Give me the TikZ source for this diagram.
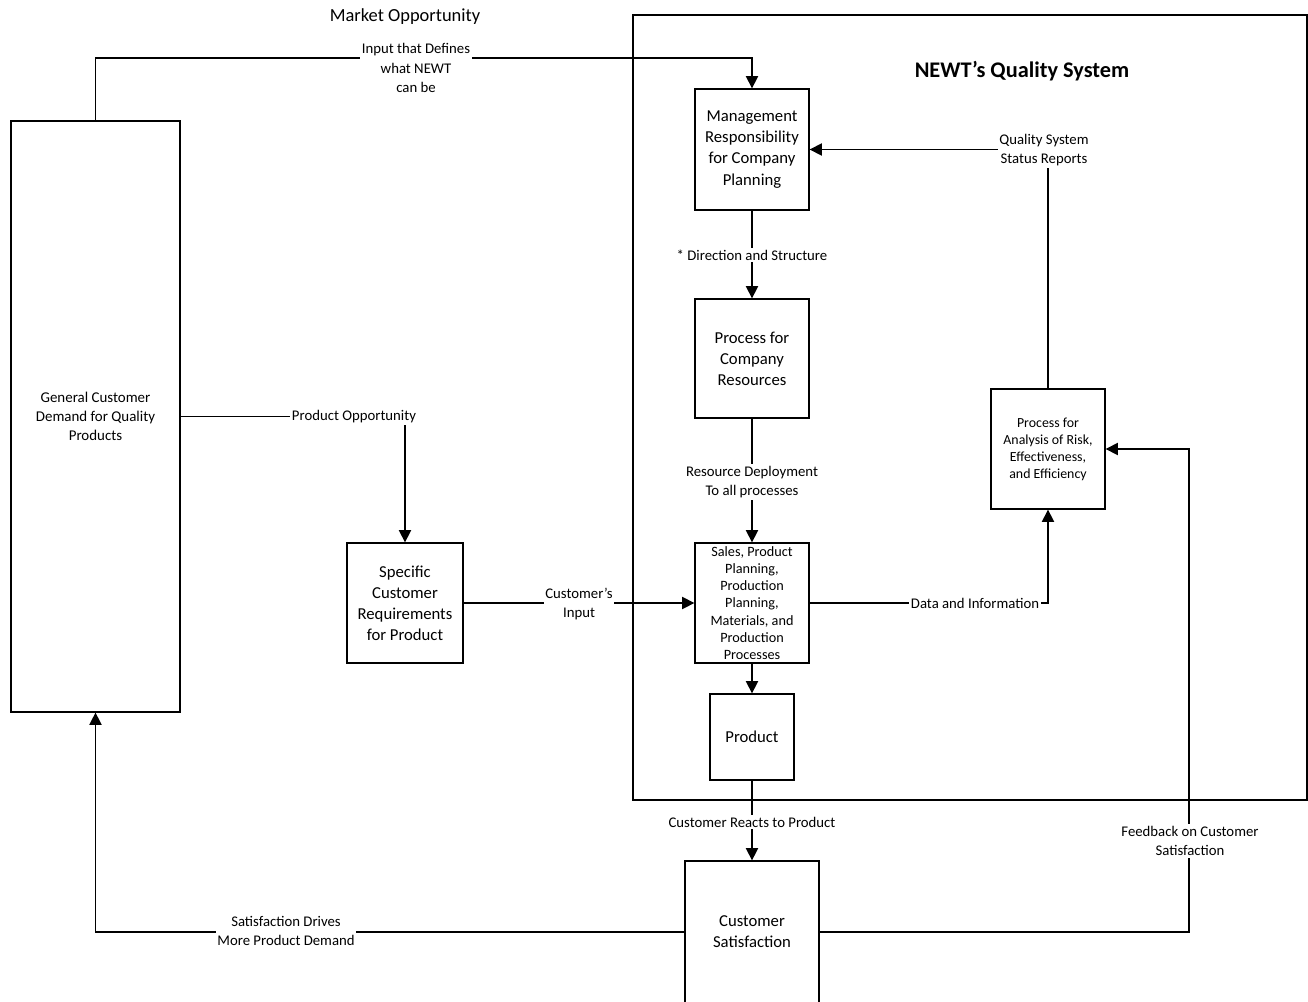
\documentclass[tikz,border=0pt]{standalone}
\usepackage{fontspec}
\setmainfont{Carlito}
\usetikzlibrary{arrows.meta}

\tikzset{
  box/.style={draw, line width=0.75pt, inner sep=0pt, align=center, font=\fontsize{9.5}{12}\selectfont},
  lbl/.style={fill=white, inner sep=1pt, align=center, font=\fontsize{8.4}{11}\selectfont},
  arr/.style={line width=0.75pt, -{Triangle[length=7pt,width=7pt]}},
}

\begin{document}
\begin{tikzpicture}[x=0.02cm, y=-0.02cm]
  \clip (0,0) rectangle (1308,1001);
  % frame of the quality system
  \node[draw, line width=0.75pt, minimum width=13.48cm, minimum height=15.7cm] (sys) at (970,407.5) {};
  \node[font=\fontsize{12.7}{15}\selectfont\bfseries] (title) at (1022,71) {NEWT’s Quality System};
  \node[font=\fontsize{10.5}{13}\selectfont] (market) at (405,17) {Market Opportunity};

  % boxes
  \node[box, font=\fontsize{8.5}{10.8}\selectfont, minimum width=3.38cm, minimum height=11.82cm] (demand) at (95.5,416.5) {General Customer\\Demand for Quality\\Products};
  \node[box, minimum width=2.28cm, minimum height=2.42cm] (mgmt) at (752,149.5) {Management\\Responsibility\\for Company\\Planning};
  \node[box, minimum width=2.28cm, minimum height=2.38cm] (res) at (752,358.5) {Process for\\Company\\Resources};
  \node[box, font=\fontsize{8.1}{9.8}\selectfont, minimum width=2.28cm, minimum height=2.4cm] (sales) at (752,603) {Sales, Product\\Planning,\\Production\\Planning,\\Materials, and\\Production\\Processes};
  \node[box, minimum width=1.68cm, minimum height=1.72cm] (prod) at (752,737) {Product};
  \node[box, minimum width=2.68cm, minimum height=2.84cm] (cust) at (752,932) {Customer\\Satisfaction};
  \node[box, minimum width=2.32cm, minimum height=2.4cm] (spec) at (405,603) {Specific\\Customer\\Requirements\\for Product};
  \node[box, font=\fontsize{7.9}{9.7}\selectfont, minimum width=2.28cm, minimum height=2.4cm] (risk) at (1048,449) {Process for\\Analysis of Risk,\\Effectiveness,\\and Efficiency};

  \coordinate (topline) at (0,58);
  \coordinate (fbline) at (1189,0);

  % connectors
  \draw[arr] (demand.north) |- (topline -| mgmt.north) -- (mgmt.north);
  \draw[arr] (mgmt) -- (res);
  \draw[arr] (res) -- (sales);
  \draw[arr] (sales) -- (prod);
  \draw[arr] (prod) -- (cust);
  \draw[arr] (demand.east) -| (spec.north);
  \draw[arr] (spec) -- (sales);
  \draw[arr] (sales.east) -| (risk.south);
  \draw[arr] (risk.north) |- (mgmt.east);
  \draw[arr] (cust.east) -| (fbline |- risk.east) -- (risk.east);
  \draw[arr] (cust.west) -| (demand.south);

  % labels
  \node[lbl] (defines) at (416,68) {Input that Defines\\what NEWT\\can be};
  \node[lbl] (direction) at (752,255) {* Direction and Structure};
  \node[lbl] (deploy) at (752,482) {Resource Deployment\\To all processes};
  \node[lbl] (opport) at (354,417) {Product Opportunity};
  \node[lbl] (input) at (579,604) {Customer’s\\Input};
  \node[lbl] (data) at (975,603) {Data and Information};
  \node[lbl] (status) at (1044,150) {Quality System\\Status Reports};
  \node[lbl] (reacts) at (752,822) {Customer Reacts to Product};
  \node[lbl] (feedback) at (1190,841) {Feedback on Customer\\Satisfaction};
  \node[lbl] (drives) at (286,931) {Satisfaction Drives\\More Product Demand};
\end{tikzpicture}
\end{document}
